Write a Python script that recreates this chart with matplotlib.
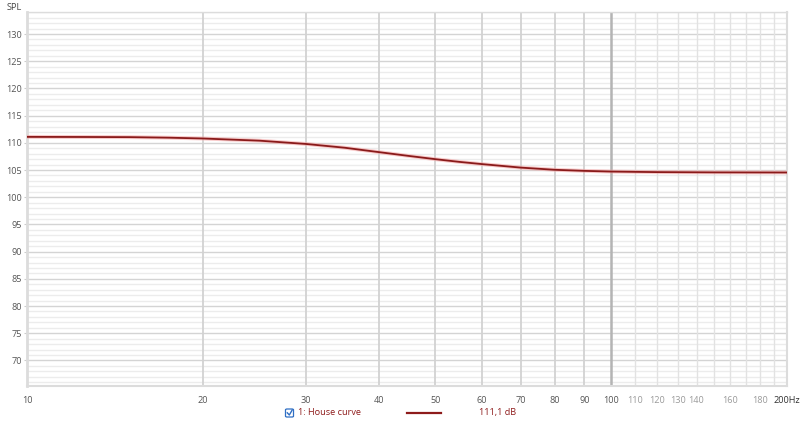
import matplotlib
matplotlib.use("Agg")
import matplotlib.pyplot as plt
from matplotlib.lines import Line2D
from matplotlib.patches import FancyBboxPatch

# ---- data ----
freq_hz = [10, 12.5, 15, 17.5, 20, 25, 30, 35, 40, 45, 50, 55, 60, 70, 80, 90, 100, 120, 150, 200]
spl_db = [111.1, 111.08, 111.05, 110.95, 110.8, 110.4, 109.8, 109.1, 108.3, 107.6, 107.0, 106.5,
          106.1, 105.45, 105.05, 104.85, 104.72, 104.62, 104.57, 104.55]
y_major = [70, 75, 80, 85, 90, 95, 100, 105, 110, 115, 120, 125, 130]
x_major = [20, 30, 40, 50, 60, 70, 80, 90]
x_minor = [110, 120, 130, 140, 150, 160, 170, 180, 190]
x_labels = ["10", "20", "30", "40", "50", "60", "70", "80", "90", "100",
            "110", "120", "130", "140", "160", "180", "200Hz"]
x_label_pos = [10, 20, 30, 40, 50, 60, 70, 80, 90, 100, 110, 120, 130, 140, 160, 180, 200]
series_name = "1: House curve"
series_value = "111,1 dB"

plt.rcParams['font.family'] = ['Open Sans', 'DejaVu Sans']
FS = 6.6

W, H = 800, 421
fig = plt.figure(figsize=(8, 4.21), dpi=100)
ax = fig.add_axes([27/W, 1-386/H, 760/W, (386-12.3)/H])
ax.set_xscale('log')
ax.set_xlim(10, 200)
ax.set_ylim(65.3, 134.0)

# grid
for y in range(66, 135):
    if y % 5 == 0:
        ax.axhline(y, color='#d4d4d4', lw=1.0, zorder=1)
    else:
        ax.axhline(y, color='#ececec', lw=1.0, zorder=0.5)
for x in x_major:
    ax.axvline(x, color='#d2d2d2', lw=1.3, zorder=1)
ax.axvline(100, color='#b4b4b4', lw=1.8, zorder=1)
for x in x_minor:
    ax.axvline(x, color='#e2e2e2', lw=1.0, zorder=1)

# curve
ax.plot(freq_hz, spl_db, color='#f4a0a0', lw=2.8, alpha=0.55, zorder=3, solid_capstyle='butt')
ax.plot(freq_hz, spl_db, color='#8a1a1a', lw=1.3, zorder=4, solid_capstyle='butt')

# ticks
ax.minorticks_off()
ax.set_yticks(y_major)
ax.set_yticklabels([str(v) for v in y_major])
ax.set_xticks(x_label_pos)
ax.set_xticklabels(x_labels)
ax.tick_params(axis='y', length=2, color='#cccccc', labelsize=FS, labelcolor='#555555', pad=1.5)
ax.tick_params(axis='x', length=0, labelsize=FS, labelcolor='#555555', pad=7)
for lbl, pos in zip(ax.get_xticklabels(), x_label_pos):
    if 100 < pos < 200:
        lbl.set_color('#9a9a9a')
    if pos == 200:
        lbl.set_color('#333333')

for side in ['left', 'bottom', 'right', 'top']:
    ax.spines[side].set_color('#dcdcdc')
ax.spines['left'].set_linewidth(2.0)
ax.spines['bottom'].set_linewidth(1.5)
ax.spines['right'].set_linewidth(1.5)
ax.spines['top'].set_linewidth(1.0)

fig.text(14/W, 1-7/H, "SPL", fontsize=FS, color='#444444', ha='center', va='center')

# legend row
ly = 1-412.5/H
fig.add_artist(FancyBboxPatch((285.5/W, 1-417/H), 8/W, 8/H,
                              boxstyle="round,pad=0,rounding_size=0.002",
                              transform=fig.transFigure, fc='white', ec='#2f6fc4', lw=0.9))
fig.add_artist(Line2D([287.3/W, 289.3/W, 292.2/W], [1-412.8/H, 1-415/H, 1-410/H],
                      color='#2f6fc4', lw=1.0, transform=fig.transFigure))
fig.text(298/W, ly, series_name, fontsize=FS, color='#8e1b1b', ha='left', va='center')
fig.add_artist(Line2D([407/W, 441/W], [ly, ly], color='#8e1b1b', lw=1.6,
                      transform=fig.transFigure))
fig.text(479/W, ly, series_value, fontsize=FS, color='#8e1b1b', ha='left', va='center')

fig.savefig("out.png", dpi=100)
